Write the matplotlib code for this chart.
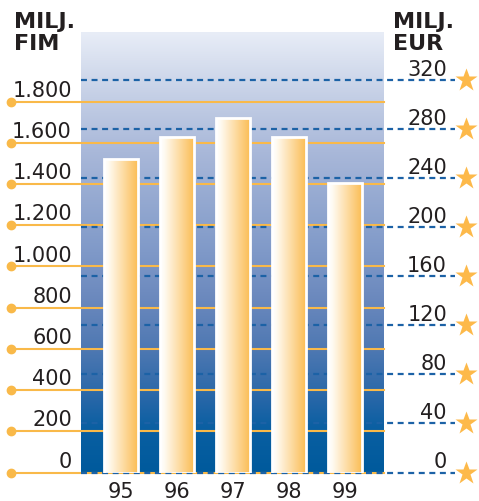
import matplotlib
matplotlib.use("Agg")
import matplotlib.pyplot as plt
import numpy as np
from matplotlib.colors import LinearSegmentedColormap
from matplotlib.transforms import blended_transform_factory

plt.rcParams['lines.scale_dashes'] = False

# ---- data ----
years = ["95", "96", "97", "98", "99"]
values_fim = [1520, 1630, 1720, 1630, 1405]
fim_ticks = [0, 200, 400, 600, 800, 1000, 1200, 1400, 1600, 1800]
eur_ticks = [0, 40, 80, 120, 160, 200, 240, 280, 320]
FIM_PER_EUR = 5.94573
y_top = 2138

fig = plt.figure(figsize=(4.79, 5.02), dpi=100)
ax = fig.add_axes([81/479, 28.5/502, 303/479, 440.5/502])
ax.set_xlim(-0.72, 4.69)
ax.set_ylim(0, y_top)
for s in ax.spines.values():
    s.set_visible(False)
ax.set_yticks([])

# background gradient
bg = LinearSegmentedColormap.from_list("bg", [
    (0.0, "#e8edf7"), (0.15, "#c3cee5"), (0.27, "#a9b8d9"), (0.5, "#7f99c8"),
    (0.61, "#6a88bd"), (0.72, "#4e78b2"), (0.83, "#2867a8"), (0.9, "#0a5fa2"),
    (1.0, "#005a9c")])
grad = np.linspace(0, 1, 256).reshape(-1, 1)
ax.imshow(grad, cmap=bg, extent=[0, 1, 0, 1], transform=ax.transAxes,
          aspect="auto", zorder=0, interpolation="bicubic")

orange = "#f9b949"
dblue = "#1c62a6"
star_c = "#fdb94a"
txt_c = "#231f20"

tr = blended_transform_factory(ax.transAxes, ax.transData)
x_dot = (11 - 81) / 303
for v in fim_ticks:
    ax.plot([x_dot, 1], [v, v], color=orange, lw=1.5, transform=tr,
            clip_on=False, zorder=1)
    ax.plot([x_dot], [v], "o", color=orange, ms=6, transform=tr,
            clip_on=False, zorder=1)
    lab = f"{v:,}".replace(",", ".")
    ax.annotate(lab, xy=(-0.03, v), xycoords=tr, xytext=(0, 8.5),
                textcoords="offset points", ha="right", va="center",
                fontsize=15, color=txt_c, annotation_clip=False)

# EUR axis
ax2 = ax.twinx()
ax2.set_ylim(0, y_top / FIM_PER_EUR)
ax2.set_xlim(ax.get_xlim())
for s in ax2.spines.values():
    s.set_visible(False)
ax2.set_yticks([])
ax2.patch.set_visible(False)
ax2.set_zorder(ax.get_zorder() + 1)
tr2 = blended_transform_factory(ax2.transAxes, ax2.transData)
x_end = (455 - 81) / 303
x_star = (466 - 81) / 303
for v in eur_ticks:
    ax2.plot([0, x_end], [v, v], color=dblue, lw=1.6, dashes=(4.3, 3.3),
             transform=tr2, clip_on=False, zorder=1)
    ax2.plot([x_star], [v], marker="*", color=star_c, ms=17, mec="none",
             transform=tr2, clip_on=False, zorder=2)
    ax2.annotate(str(v), xy=((447 - 81) / 303, v), xycoords=tr2,
                 xytext=(0, 8.5), textcoords="offset points", ha="right",
                 va="center", fontsize=15, color=txt_c, annotation_clip=False)

# bars
barcm = LinearSegmentedColormap.from_list("bar", [
    (0.0, "#ffffff"), (0.12, "#fffbf3"), (1.0, "#fbbb50")])
hgrad = np.linspace(0, 1, 256).reshape(1, -1)
x = np.arange(len(years))
width = 0.61
vals_eur = [v / FIM_PER_EUR for v in values_fim]
bars = ax2.bar(x, vals_eur, width=width, color="none", edgecolor="white",
               linewidth=2, zorder=4)
for b in bars:
    x0, y0 = b.get_x(), b.get_y()
    im = ax2.imshow(hgrad, cmap=barcm, extent=[x0, x0 + b.get_width(), y0, y0 + b.get_height()],
                    aspect="auto", zorder=3, interpolation="bicubic")
    im.set_clip_path(b)
ax2.set_ylim(0, y_top / FIM_PER_EUR)
ax2.set_xlim(-0.72, 4.69)

ax.set_xticks(x)
ax.set_xticklabels(years, fontsize=15, color=txt_c)
ax.tick_params(axis="x", length=0, pad=6)

# titles
fig.text(14/479, 1 - 12/502, "MILJ.\nFIM", ha="left", va="top", fontsize=16,
         fontweight="bold", color=txt_c, linespacing=1.1)
fig.text(393/479, 1 - 12/502, "MILJ.\nEUR", ha="left", va="top", fontsize=16,
         fontweight="bold", color=txt_c, linespacing=1.1)

fig.savefig("out.png", dpi=100)
